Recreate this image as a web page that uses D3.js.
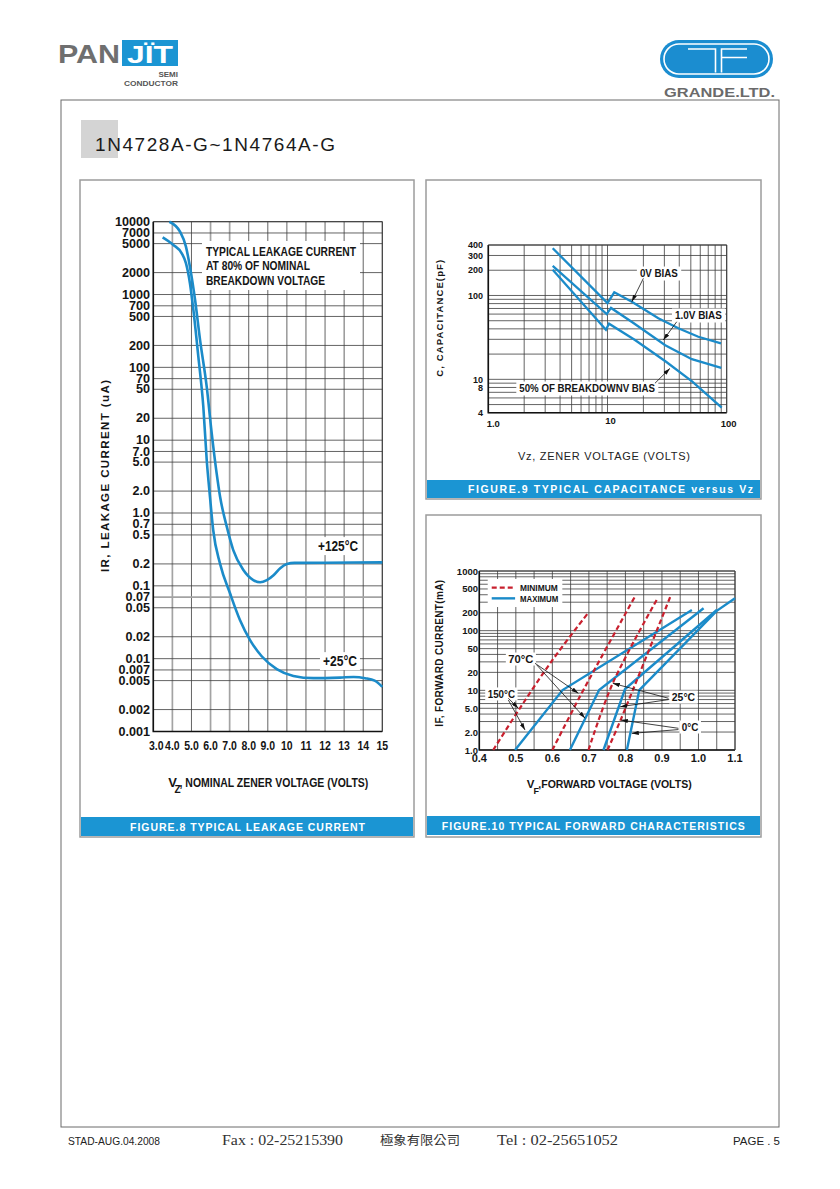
<!DOCTYPE html>
<html><head><meta charset="utf-8">
<script src="https://cdn.jsdelivr.net/npm/d3@7"></script>
<style>
html,body{margin:0;padding:0;background:#fff;}
svg{display:block;}
text{font-family:"Liberation Sans",Arial,sans-serif;}
</style></head><body>
<svg id="page" width="840" height="1189"></svg>
<script>
// ---------------- DATA ----------------
// Figure 8: leakage current vs nominal zener voltage
const fig8X = [3,4,5,6,7,8,9,10,11,12,13,14,15];
const fig8XLabels = ["3.0","4.0","5.0","6.0","7.0","8.0","9.0","10","11","12","13","14","15"];
const fig8Y = [10000,7000,5000,2000,1000,700,500,200,100,70,50,20,10,7,5,2,1,0.7,0.5,0.2,0.1,0.07,0.05,0.02,0.01,0.007,0.005,0.002,0.001];
const fig8YLabels = ["10000","7000","5000","2000","1000","700","500","200","100","70","50","20","10","7.0","5.0","2.0","1.0","0.7","0.5","0.2","0.1","0.07","0.05","0.02","0.01","0.007","0.005","0.002","0.001"];
const leak125 = [[3.84,10000],[4.40,7300],[4.71,4540],[4.92,2410],[5.19,841],[5.45,238],[5.80,54],[6.06,12.5],[6.32,3.5],[6.50,1.67],[6.85,0.65],[7.19,0.31],[7.72,0.165],[8.24,0.12],[8.6,0.112],[8.95,0.12],[9.3,0.14],[9.65,0.175],[10.0,0.2],[10.4,0.207],[12,0.208],[15,0.21]];
const leak25 = [[3.49,6100],[4.05,4800],[4.49,3680],[4.71,2700],[4.92,1430],[5.10,614],[5.36,140],[5.62,29],[5.80,5.3],[5.97,1.67],[6.14,0.58],[6.50,0.2],[7.02,0.079],[7.54,0.034],[8.07,0.018],[8.68,0.0108],[9.47,0.0072],[10.34,0.0058],[11.39,0.0054],[12.79,0.0055],[13.5,0.0056],[14.1,0.0054],[14.6,0.005],[15,0.0041]];

// Figure 9: capacitance vs zener voltage
const fig9X = [1,10,100];
const fig9XLabels = ["1.0","10","100"];
const fig9Y = [400,300,200,100,10,8,4];
const cap0V = [[3.47,366],[10.0,81],[11.4,109],[16,84],[26.7,53.5],[39.3,40.6],[57.8,32.2],[89.6,26.9]];
const cap1V = [[3.47,225],[9.85,60],[10.7,71],[16.5,47],[30.5,25.5],[51,17.4],[90,13.7]];
const cap50 = [[3.47,203],[9.7,39],[10.3,46],[17,29.4],[31,16.2],[51.5,9.4],[90.8,4.6]];

// Figure 10: forward characteristics
const fig10X = [0.4,0.5,0.6,0.7,0.8,0.9,1.0,1.1];
const fig10XLabels = ["0.4","0.5","0.6","0.7","0.8","0.9","1.0","1.1"];
const fig10Y = [1000,500,200,100,50,20,10,5,2,1];
const fig10YLabels = ["1000","500","200","100","50","20","10","5.0","2.0","1.0"];
const min150 = [[0.438,1],[0.511,5],[0.6,32],[0.697,195]];
const min70  = [[0.600,1],[0.676,8],[0.825,363]];
const min25  = [[0.699,1],[0.765,13],[0.888,348]];
const min0   = [[0.751,1],[0.787,3.2],[0.924,385]];
const max150 = [[0.498,1],[0.628,10.1],[0.982,222]];
const max70  = [[0.648,1],[0.728,10.1],[1.014,237]];
const max25  = [[0.740,1],[0.799,10.5],[1.05,222]];
const max0   = [[0.804,1],[0.838,10.1],[1.05,215],[1.10,348]];

// ---------------- DRAWING ----------------
const BLUE = "#1b8bc9", RED = "#c8202e", BAND = "#1b95d3", GRID = "#3c3c3c", LIGHT = "#a3a3a3";
const svg = d3.select("#page");
svg.append("rect").attr("width",840).attr("height",1189).attr("fill","#fff");
const defs = svg.append("defs");
defs.append("marker").attr("id","ah").attr("viewBox","0 0 10 6").attr("refX",10).attr("refY",3)
  .attr("markerWidth",7).attr("markerHeight",4.2).attr("markerUnits","userSpaceOnUse").attr("orient","auto")
  .append("path").attr("d","M0,0L10,3L0,6Z").attr("fill","#111");

function T(g, x, y, s, o = {}) {
  const t = g.append("text").attr("x", x).attr("y", y).text(s)
    .attr("font-size", o.size || 12).attr("font-weight", o.weight || "bold")
    .attr("fill", o.fill || "#151515").attr("text-anchor", o.anchor || "start");
  if (o.family) t.style("font-family", o.family);
  if (o.len) t.attr("textLength", o.len).attr("lengthAdjust", o.adjust || "spacingAndGlyphs");
  else if (o.narrow) t.attr("textLength", t.node().getComputedTextLength() * o.narrow).attr("lengthAdjust", "spacingAndGlyphs");
  if (o.rot) t.attr("transform", `rotate(${o.rot},${x},${y})`);
  return t;
}
function boxBehind(g, t, px, py) {
  const b = t.node().getBBox();
  g.insert("rect", () => t.node()).attr("x", b.x - px).attr("y", b.y - py)
    .attr("width", b.width + 2 * px).attr("height", b.height + 2 * py).attr("fill", "#fff");
}
function arrow(g, xs, ys, a, b) {
  g.append("line").attr("x1", xs(a[0])).attr("y1", ys(a[1])).attr("x2", xs(b[0])).attr("y2", ys(b[1]))
    .attr("stroke", "#111").attr("stroke-width", 0.8).attr("marker-end", "url(#ah)");
}
function grid(g, xs, ys, xv, yv, lightX = [], lightY = []) {
  const [X0, X1] = xs.range(), [Y0, Y1] = ys.range();
  g.append("g").selectAll("line").data(xv).join("line")
    .attr("x1", d => xs(d)).attr("x2", d => xs(d)).attr("y1", Y0).attr("y2", Y1)
    .attr("stroke", d => lightX.includes(d) ? LIGHT : GRID).attr("stroke-width", d => lightX.includes(d) ? 1.7 : 0.8);
  g.append("g").selectAll("line").data(yv).join("line")
    .attr("y1", d => ys(d)).attr("y2", d => ys(d)).attr("x1", X0).attr("x2", X1)
    .attr("stroke", d => lightY.includes(d) ? LIGHT : GRID).attr("stroke-width", d => lightY.includes(d) ? 1.7 : 0.8);
  g.append("path").attr("d", `M${X0},${Y1}V${Y0}H${X1}`).attr("fill", "none").attr("stroke", "#111").attr("stroke-width", 1.6);
  g.append("path").attr("d", `M${X0},${Y1}H${X1}V${Y0}`).attr("fill", "none").attr("stroke", GRID).attr("stroke-width", 1);
}

// ---------- Header ----------
const hd = svg.append("g");
T(hd, 58, 63, "PAN", {size: 25, fill: "#6f6f6f", len: 62});
hd.append("rect").attr("x", 122).attr("y", 40).attr("width", 56).attr("height", 26).attr("fill", BAND);
T(hd, 150, 63, "JÏT", {size: 24, fill: "#fff", anchor: "middle", len: 46});
T(hd, 178, 77, "SEMI", {size: 8, fill: "#555", anchor: "end"});
T(hd, 178, 86, "CONDUCTOR", {size: 8, fill: "#555", anchor: "end", len: 54});
hd.append("rect").attr("x", 660).attr("y", 40).attr("width", 113).attr("height", 38).attr("rx", 19).attr("fill", "#1b8dd0");
hd.append("rect").attr("x", 664).attr("y", 44).attr("width", 105).attr("height", 30).attr("rx", 15).attr("fill", "none").attr("stroke", "#fff").attr("stroke-width", 1.6);
hd.append("path").attr("d", "M688,49H715.5V72.5M721.5,72.5V49H747M721.5,57.5H747").attr("fill", "none").attr("stroke", "#fff").attr("stroke-width", 1.6);
T(hd, 664, 97, "GRANDE.LTD.", {size: 12.5, fill: "#6a6a6a", len: 111});

svg.append("rect").attr("x", 61).attr("y", 100).attr("width", 718).attr("height", 1027).attr("fill", "none").attr("stroke", "#6a6a6a").attr("stroke-width", 1);
svg.append("rect").attr("x", 81).attr("y", 120).attr("width", 37).attr("height", 38).attr("fill", "#d4d4d4");
T(svg, 95, 151, "1N4728A-G~1N4764A-G", {size: 19, weight: "normal", fill: "#1a1a1a", len: 240, adjust: "spacing"});

function panel(x, y, w, h, bandY, bandH, caption, cx, cy, clen) {
  svg.append("rect").attr("x", x).attr("y", y).attr("width", w).attr("height", h).attr("fill", "none").attr("stroke", "#9c9c9c").attr("stroke-width", 1.5);
  svg.append("rect").attr("x", x + 1).attr("y", bandY).attr("width", w - 2).attr("height", bandH).attr("fill", BAND);
  T(svg, cx, cy, caption, {size: 10.5, fill: "#fff", anchor: "middle", len: clen, adjust: "spacing"});
}
panel(80, 180, 334, 657, 817, 19, "FIGURE.8 TYPICAL LEAKAGE CURRENT", 247.5, 830.5, 235);
panel(426, 180, 335, 319, 480, 18, "FIGURE.9 TYPICAL CAPACITANCE versus Vz", 610.5, 493, 285);
panel(426, 515, 335, 322, 816, 19, "FIGURE.10 TYPICAL FORWARD CHARACTERISTICS", 593.3, 829.5, 303);

// ---------- Figure 8 ----------
const g8 = svg.append("g");
const x8 = d3.scaleLinear().domain(d3.extent(fig8X)).range([153.3, 382.3]);
const y8 = d3.scaleLog().domain(d3.extent(fig8Y)).range([731.5, 221.7]);
grid(g8, x8, y8, fig8X, fig8Y, [4, 6, 7], [0.07]);
fig8Y.forEach((v, i) => T(g8, 150, y8(v) + 4.2, fig8YLabels[i], {size: 12, anchor: "end", narrow: 1.05}));
fig8X.forEach((v, i) => T(g8, x8(v) + (i === 0 ? 3 : 0), 750, fig8XLabels[i], {size: 12.5, anchor: "middle", narrow: 0.84}));
const ann8 = g8.append("g");
const a1 = T(ann8, x8(5.76), y8(3380), "TYPICAL LEAKAGE CURRENT", {size: 13, len: 150});
const a2 = T(ann8, x8(5.76), y8(2170), "AT 80% OF NOMINAL", {size: 13, len: 104});
const a3 = T(ann8, x8(5.76), y8(1350), "BREAKDOWN VOLTAGE", {size: 13, len: 119});
{
  const b1 = a1.node().getBBox(), b3 = a3.node().getBBox();
  ann8.insert("rect", () => a1.node()).attr("x", b1.x - 4).attr("y", b1.y - 3).attr("width", b1.width + 8).attr("height", b3.y + b3.height - b1.y + 5).attr("fill", "#fff");
}
const l125 = T(ann8, x8(11.63), y8(0.30), "+125°C", {size: 14, len: 40});
boxBehind(ann8, l125, 3, 1);
const l25 = T(ann8, x8(11.89), y8(0.0079), "+25°C", {size: 14, len: 34});
boxBehind(ann8, l25, 3, 1);
const line8 = d3.line().x(d => x8(d[0])).y(d => y8(d[1])).curve(d3.curveMonotoneX);
[leak125, leak25].forEach(s => g8.append("path").attr("d", line8(s)).attr("fill", "none").attr("stroke", BLUE).attr("stroke-width", 2.6));
T(g8, 108.5, 476, "IR,  LEAKAGE CURRENT (uA)", {size: 11.5, anchor: "middle", rot: -90, len: 192, adjust: "spacing"});
T(g8, 168.3, 786.7, "V", {size: 13});
T(g8, 174.6, 793, "Z", {size: 10});
T(g8, 179.5, 786.7, ", NOMINAL ZENER VOLTAGE (VOLTS)", {size: 12.5, len: 188.8});

// ---------- Figure 9 ----------
const g9 = svg.append("g");
const x9 = d3.scaleLog().domain(d3.extent(fig9X)).range([488.3, 726.7]);
const y9 = d3.scaleLog().domain(d3.extent(fig9Y)).range([412.7, 245]);
grid(g9, x9, y9, x9.ticks(), y9.ticks());
fig9Y.forEach(v => T(g9, 483, y9(v) + 3.2, String(v), {size: 9, anchor: "end"}));
fig9X.forEach((v, i) => T(g9, x9(v) + [5, 3, 2][i], [427, 424, 427][i], fig9XLabels[i], {size: 9.5, anchor: "middle"}));
const ann9 = g9.append("g");
const t0 = T(ann9, x9(18.7), y9(166), "0V BIAS", {size: 10, len: 38});
boxBehind(ann9, t0, 3, 1.5);
const t1 = T(ann9, x9(36.8), y9(52.4), "1.0V BIAS", {size: 10, len: 47});
boxBehind(ann9, t1, 3, 1.5);
const t2 = T(ann9, x9(1.82), y9(7.06), "50% OF BREAKDOWNV BIAS", {size: 10, len: 135.7});
boxBehind(ann9, t2, 3, 1.5);
const line9 = d3.line().x(d => x9(d[0])).y(d => y9(d[1]));
[cap0V, cap1V, cap50].forEach(s => g9.append("path").attr("d", line9(s)).attr("fill", "none").attr("stroke", BLUE).attr("stroke-width", 2.3).attr("stroke-linejoin", "miter"));
arrow(g9, x9, y9, [20, 160], [16, 84.3]);
arrow(g9, x9, y9, [38.1, 48.6], [29.4, 29.4]);
arrow(g9, x9, y9, [25, 8.97], [33.4, 13.5]);
T(g9, 443, 318.3, "C, CAPACITANCE(pF)", {size: 9.5, anchor: "middle", rot: -90, len: 117, adjust: "spacing"});
T(g9, 604, 460, "Vz, ZENER VOLTAGE (VOLTS)", {size: 11, weight: "normal", fill: "#222", anchor: "middle", len: 172, adjust: "spacing"});

// ---------- Figure 10 ----------
const g10 = svg.append("g");
const x10 = d3.scaleLinear().domain(d3.extent(fig10X)).range([479.3, 735]);
const y10 = d3.scaleLog().domain(d3.extent(fig10Y)).range([750, 571]);
grid(g10, x10, y10, x10.ticks(14), y10.ticks());
fig10Y.forEach((v, i) => T(g10, 478, y10(v) + (i === 0 ? 4 : 3.5), fig10YLabels[i], {size: 9.5, anchor: "end"}));
fig10X.forEach((v, i) => T(g10, x10(v), 761.7, fig10XLabels[i], {size: 11, anchor: "middle"}));
const leg = g10.append("g");
T(leg, x10(0.5115), y10(462), "MINIMUM", {size: 8.5, len: 37.7});
T(leg, x10(0.5115), y10(302), "MAXIMUM", {size: 8.5, len: 38.3});
leg.append("line").attr("x1", x10(0.434)).attr("x2", x10(0.498)).attr("y1", y10(525)).attr("y2", y10(525)).attr("stroke", RED).attr("stroke-width", 2.2).attr("stroke-dasharray", "5,3");
leg.append("line").attr("x1", x10(0.434)).attr("x2", x10(0.498)).attr("y1", y10(348)).attr("y2", y10(348)).attr("stroke", BLUE).attr("stroke-width", 2.4);
{
  const b = leg.node().getBBox();
  leg.insert("rect", ":first-child").attr("x", b.x - 4).attr("y", b.y - 4).attr("width", b.width + 8).attr("height", b.height + 7).attr("fill", "#fff");
}
const ann10 = g10.append("g");
[["70°C", 0.4795, 28.7, 25], ["150°C", 0.423, 7.45, 27.3], ["25°C", 0.927, 6.6, 23.3], ["0°C", 0.9545, 2.08, 16.6]].forEach(d => {
  const t = T(ann10, x10(d[1]), y10(d[2]), d[0], {size: 11, len: d[3]});
  boxBehind(ann10, t, 2.5, 0.5);
});
const line10 = d3.line().x(d => x10(d[0])).y(d => y10(d[1]));
const line10c = d3.line().x(d => x10(d[0])).y(d => y10(d[1])).curve(d3.curveCatmullRom);
[max150, max70, max25, max0].forEach(s => g10.append("path").attr("d", line10(s)).attr("fill", "none").attr("stroke", BLUE).attr("stroke-width", 2.4));
[min150, min70, min25, min0].forEach(s => g10.append("path").attr("d", line10c(s)).attr("fill", "none").attr("stroke", RED).attr("stroke-width", 2.2).attr("stroke-dasharray", "5,3"));
arrow(g10, x10, y10, [0.5526, 28.4], [0.6712, 8.9]);
arrow(g10, x10, y10, [0.5573, 26.6], [0.6896, 3.4]);
arrow(g10, x10, y10, [0.4795, 7.36], [0.5068, 5.0]);
arrow(g10, x10, y10, [0.4795, 6.9], [0.5252, 2.16]);
arrow(g10, x10, y10, [0.918, 7.36], [0.7655, 13.1]);
arrow(g10, x10, y10, [0.918, 7.0], [0.7855, 5.3]);
arrow(g10, x10, y10, [0.9452, 2.31], [0.7874, 3.18]);
arrow(g10, x10, y10, [0.9452, 2.2], [0.8175, 1.9]);
T(g10, 443, 653.3, "IF, FORWARD CURRENT(mA)", {size: 10, anchor: "middle", rot: -90, len: 146.7, adjust: "spacing"});
T(g10, 526.7, 788.3, "V", {size: 11.5});
T(g10, 533.6, 793.5, "F", {size: 9});
T(g10, 538.3, 788.3, ",FORWARD VOLTAGE (VOLTS)", {size: 11, len: 153.4});

// ---------- Footer ----------
const ft = svg.append("g");
T(ft, 68, 1145, "STAD-AUG.04.2008", {size: 10.5, weight: "normal", fill: "#222", len: 92});
T(ft, 222, 1145, "Fax : 02-25215390", {size: 14, weight: "normal", fill: "#333", len: 121, family: "'Liberation Serif', serif"});
T(ft, 380, 1145, "極象有限公司", {size: 12.5, weight: "normal", fill: "#333", len: 80, family: "'Noto Sans CJK TC', sans-serif"});
T(ft, 497, 1145, "Tel : 02-25651052", {size: 14, weight: "normal", fill: "#333", len: 121, family: "'Liberation Serif', serif"});
T(ft, 733, 1145, "PAGE . 5", {size: 10.5, weight: "normal", fill: "#222", len: 47});
</script>
</body></html>
